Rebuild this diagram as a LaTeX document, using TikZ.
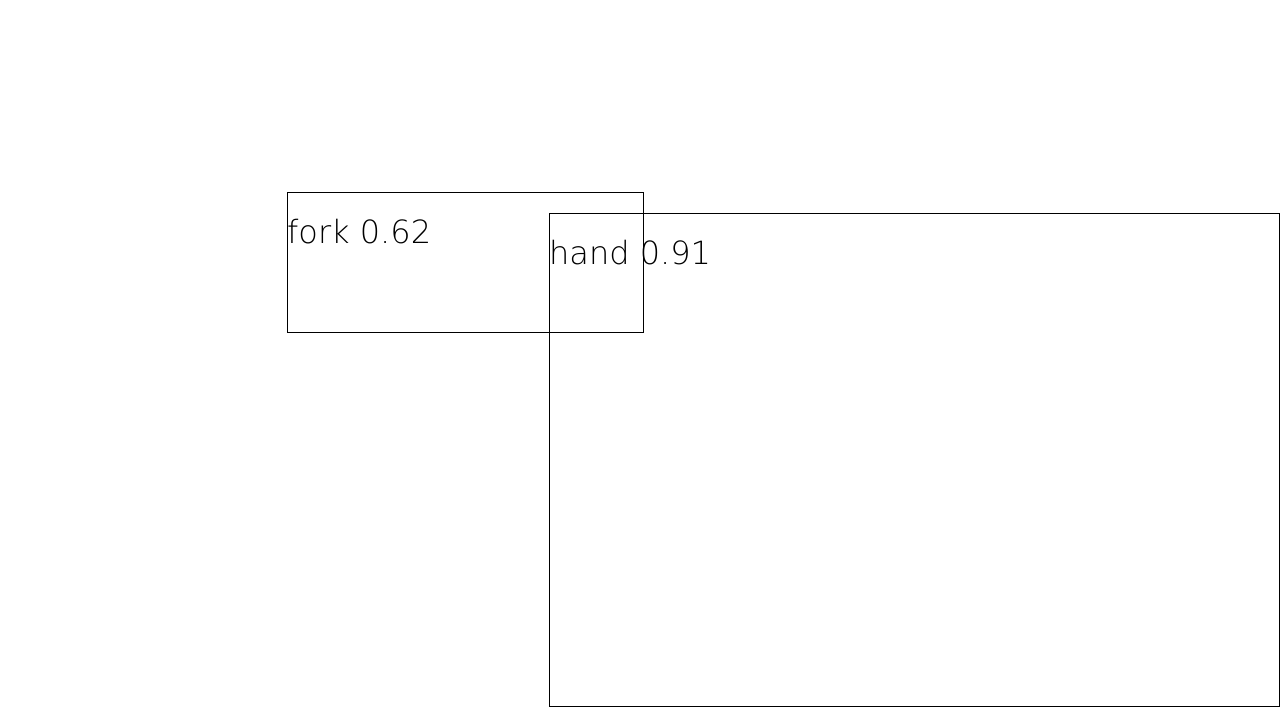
\documentclass[tikz,border=0pt]{standalone}
\usepackage{fontspec}
\newfontfamily\thinfont{DejaVu Sans ExtraLight}
\begin{document}
\begin{tikzpicture}[x=1pt,y=-1pt,
  boxline/.style={draw=black,line width=1pt},
  lbl/.style={anchor=base west,inner sep=0pt,font=\thinfont\fontsize{32}{32}\selectfont}]
\useasboundingbox (0,0) rectangle (1280,720);
\node[boxline,minimum width=356pt,minimum height=140pt,anchor=north west,inner sep=0pt] (fork) at (287,192) {};
\node[boxline,minimum width=729.5pt,minimum height=493pt,anchor=north west,inner sep=0pt] (hand) at (549,213) {};
\node[lbl] (forklbl) at (287,243) {fork 0.62};
\node[lbl] (handlbl) at (549,264) {hand 0.91};
\end{tikzpicture}
\end{document}
